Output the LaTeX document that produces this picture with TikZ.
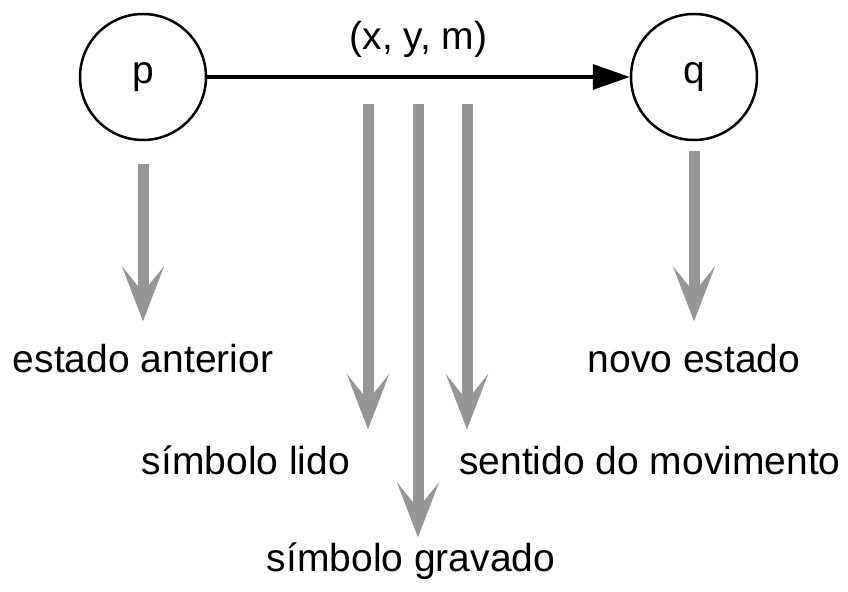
\documentclass[tikz,border=0pt]{standalone}
\usepackage{fontspec}
\setmainfont{Liberation Sans}
\usepackage{tikz}
\usetikzlibrary{arrows.meta, positioning, calc}
\usepackage{xcolor}
\definecolor{flowgrey}{HTML}{969696}
\definecolor{edgeblack}{HTML}{000000}
\tikzset{
  state/.style={circle, draw=edgeblack, line width=1.25pt, minimum size=63pt,
                inner sep=0pt, font=\fontsize{19.5}{23}\selectfont},
  trans/.style={-{Triangle[length=18.5pt,width=12.5pt]}, line width=1.75pt, draw=edgeblack},
  flow/.style={-{Stealth[length=27.5pt,width=21pt,inset=13pt]}, line width=5.5pt, draw=flowgrey},
  lbl/.style={font=\fontsize{19.5}{23}\selectfont, inner sep=0pt,
              text height=14.6pt, text depth=4.9pt},
}

\begin{document}
\begin{tikzpicture}[x=0.5pt, y=-0.5pt]
  \useasboundingbox (0,0) rectangle (848,592);

  % --- States ---
  \node[state] (p) at (143, 77) {p};
  \node[state] (q) at (694, 77) {q};

  % --- Transition p -> q ---
  \draw[trans] (p) -- (q) node[lbl, midway, above=8pt] (tr) {(x, y, m)};

  % --- Labels ---
  \node[lbl, anchor=base] (ant)  at (143, 373) {estado anterior};
  \node[lbl, anchor=base] (novo) at (694, 373) {novo estado};
  \node[lbl, anchor=base] (lido) at (246, 475) {símbolo lido};
  \node[lbl, anchor=base] (mov)  at (650, 475) {sentido do movimento};
  \node[lbl, anchor=base] (grav) at (411, 572) {símbolo gravado};

  % --- Start points under the transition ---
  \coordinate (lidoA) at (368, 104);
  \coordinate (gravA) at (418, 104);
  \coordinate (movA)  at (467, 104);

  % --- Grey arrows ---
  \draw[flow, shorten <=11.5pt, shorten >=11pt] (p) -- (ant);
  \draw[flow, shorten <=5pt, shorten >=11pt] (q) -- (novo);
  \draw[flow, shorten >=8pt] (lidoA) -- (lidoA |- lido.north);
  \draw[flow, shorten >=2.5pt] (gravA) -- (gravA |- grav.north);
  \draw[flow, shorten >=8pt] (movA) -- (movA |- mov.north);

\end{tikzpicture}
\end{document}
